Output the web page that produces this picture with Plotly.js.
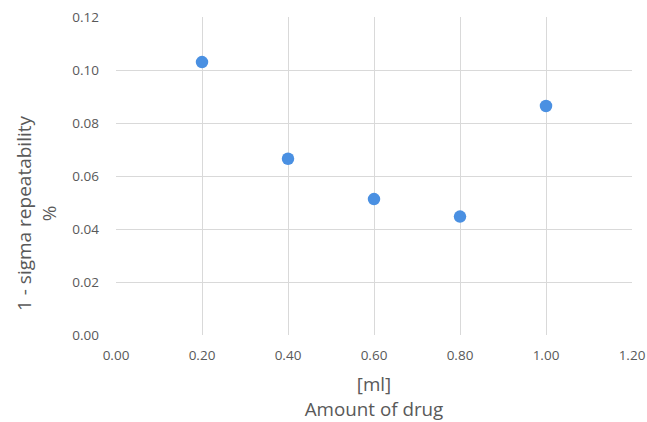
<!DOCTYPE html>
<html>
<head>
<meta charset="utf-8">
<script src="https://cdn.plot.ly/plotly-3.0.1.min.js"></script>
<style>html,body{margin:0;padding:0;background:#fff;}#chart{width:647px;height:422px;}</style>
</head>
<body>
<div id="chart"></div>
<script>
var amountMl = [0.2, 0.4, 0.6, 0.8, 1.0];
var repeatability = [0.103, 0.0665, 0.0513, 0.0447, 0.0864];
var xTicks = [0, 0.2, 0.4, 0.6, 0.8, 1.0, 1.2];
var yTicks = [0, 0.02, 0.04, 0.06, 0.08, 0.10, 0.12];
var xTitle = '[ml]<br>Amount of drug';
var yTitle = '1 - sigma repeatability<br>%';

var trace = {
  x: amountMl, y: repeatability, type: 'scatter', mode: 'markers',
  marker: {size: 12.5, color: '#4a90e2', line: {width: 0}},
  hoverinfo: 'x+y'
};
var fontFam = 'Open Sans, Lato, sans-serif';
var W = 647, H = 422, mL = 116, mR = 15, mT = 17, mB = 87;
var pw = W - mL - mR, ph = H - mT - mB;
var layout = {
  width: W, height: H,
  margin: {l: mL, r: mR, t: mT, b: mB},
  paper_bgcolor: '#fff', plot_bgcolor: '#fff',
  showlegend: false,
  font: {family: fontFam, color: '#595959', size: 13.5},
  xaxis: {
    range: [0, 1.2], tickvals: xTicks, tickformat: '.2f',
    showgrid: true, gridcolor: '#d9d9d9', gridwidth: 1,
    zeroline: false, showline: false, ticks: '',
    tickfont: {size: 13.5, color: '#595959'},
    ticklabelstandoff: 10,
    title: {text: xTitle, font: {size: 18.8, color: '#595959'}, standoff: 15},
    automargin: false, fixedrange: true
  },
  yaxis: {
    range: [0, 0.12], tickvals: yTicks, tickformat: '.2f',
    showgrid: true, gridcolor: '#d9d9d9', gridwidth: 1,
    zeroline: false, showline: false, ticks: '',
    tickfont: {size: 13.5, color: '#595959'},
    ticklabelstandoff: 16,
    automargin: false, fixedrange: true
  },
  annotations: [{
    text: yTitle, textangle: -90, showarrow: false,
    xref: 'paper', yref: 'paper',
    x: (36 - mL) / pw, y: (mT + ph - 213) / ph,
    xanchor: 'center', yanchor: 'middle',
    font: {size: 19, color: '#595959', family: fontFam}
  }]
};
Plotly.newPlot('chart', [trace], layout, {displayModeBar: false, staticPlot: true});
</script>
</body>
</html>
